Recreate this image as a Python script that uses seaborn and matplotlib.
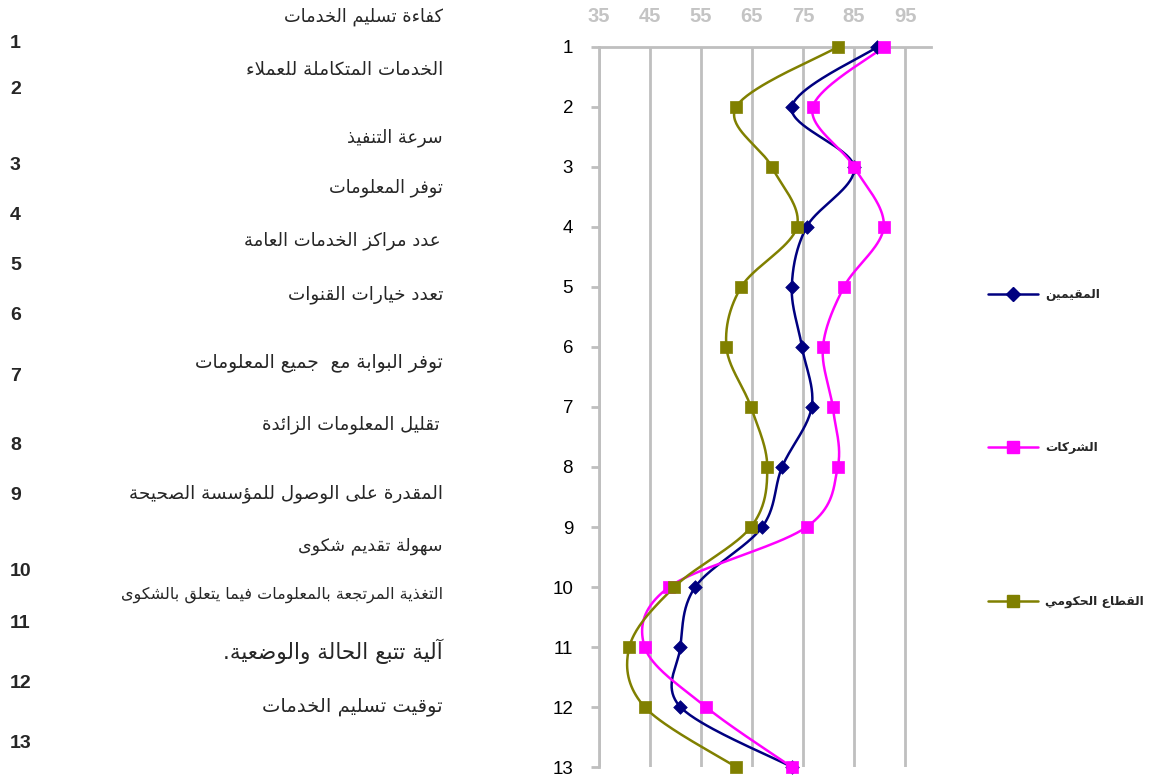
import numpy as np
import pandas as pd
import matplotlib
matplotlib.use("Agg")
import matplotlib.pyplot as plt
import seaborn as sns
from matplotlib.lines import Line2D

# ---------------- data ----------------
categories = list(range(1, 14))
residents = [89.5, 72.8, 85.0, 75.7, 72.8, 74.8, 76.7, 70.9, 67.0, 53.9, 51.0, 51.0, 72.8]
companies = [90.8, 76.9, 85.0, 90.8, 83.0, 78.9, 80.8, 81.8, 75.7, 48.8, 44.0, 56.0, 72.8]
government = [81.8, 61.9, 68.9, 73.8, 62.9, 60.0, 64.8, 68.0, 64.8, 49.8, 41.0, 44.0, 61.9]
series_names = ["المقيمين", "الشركات", "القطاع الحكومي"]
x_ticks = [35, 45, 55, 65, 75, 85, 95]
criteria = [
    "كفاءة تسليم الخدمات",
    "الخدمات المتكاملة للعملاء",
    "سرعة التنفيذ",
    "توفر المعلومات",
    "عدد مراكز الخدمات العامة",
    "تعدد خيارات القنوات",
    "توفر البوابة مع  جميع المعلومات",
    "تقليل المعلومات الزائدة",
    "المقدرة على الوصول للمؤسسة الصحيحة",
    "سهولة تقديم شكوى",
    "التغذية المرتجعة بالمعلومات فيما يتعلق بالشكوى",
    "آلية تتبع الحالة والوضعية.",
    "توقيت تسليم الخدمات",
]
row_numbers = [str(i) for i in range(1, 14)]

# ---------------- Arabic shaping (presentation forms + visual order) ----------------
DUAL = {0x0626: 0xFE89, 0x0628: 0xFE8F, 0x062A: 0xFE95, 0x062B: 0xFE99, 0x062C: 0xFE9D,
        0x062D: 0xFEA1, 0x062E: 0xFEA5, 0x0633: 0xFEB1, 0x0634: 0xFEB5, 0x0635: 0xFEB9,
        0x0636: 0xFEBD, 0x0637: 0xFEC1, 0x0638: 0xFEC5, 0x0639: 0xFEC9, 0x063A: 0xFECD,
        0x0641: 0xFED1, 0x0642: 0xFED5, 0x0643: 0xFED9, 0x0644: 0xFEDD, 0x0645: 0xFEE1,
        0x0646: 0xFEE5, 0x0647: 0xFEE9, 0x064A: 0xFEF1}
RIGHT = {0x0622: 0xFE81, 0x0623: 0xFE83, 0x0624: 0xFE85, 0x0625: 0xFE87, 0x0627: 0xFE8D,
         0x0629: 0xFE93, 0x062F: 0xFEA9, 0x0630: 0xFEAB, 0x0631: 0xFEAD, 0x0632: 0xFEAF,
         0x0648: 0xFEED, 0x0649: 0xFEEF}
NONJ = {0x0621: 0xFE80}
LAM_ALEF = {0x0622: 0xFEF5, 0x0623: 0xFEF7, 0x0625: 0xFEF9, 0x0627: 0xFEFB}


def shape(text):
    items = []
    i = 0
    while i < len(text):
        c = ord(text[i])
        if c == 0x0644 and i + 1 < len(text) and ord(text[i + 1]) in LAM_ALEF:
            items.append(("LA", ord(text[i + 1])))
            i += 2
            continue
        items.append(("C", c))
        i += 1

    def jtype(it):
        kind, c = it
        if kind == "LA":
            return "R"
        if c in DUAL:
            return "D"
        if c in RIGHT:
            return "R"
        if c in NONJ:
            return "U"
        return "N"

    out = []
    for j, it in enumerate(items):
        t = jtype(it)
        prev_t = jtype(items[j - 1]) if j > 0 else "N"
        next_t = jtype(items[j + 1]) if j + 1 < len(items) else "N"
        join_prev = t in ("D", "R") and prev_t == "D"
        join_next = t == "D" and next_t in ("D", "R")
        kind, c = it
        if kind == "LA":
            out.append(chr(LAM_ALEF[c] + (1 if join_prev else 0)))
        elif t == "D":
            off = 3 if (join_prev and join_next) else 1 if join_prev else 2 if join_next else 0
            out.append(chr(DUAL[c] + off))
        elif t == "R":
            out.append(chr(RIGHT[c] + (1 if join_prev else 0)))
        elif t == "U":
            out.append(chr(NONJ[c]))
        else:
            out.append(chr(c))
    return "".join(reversed(out))


def smooth(xv, yv, n=40):
    """Bezier smoothing through every point (Catmull-Rom control points)."""
    P = np.column_stack([xv, yv]).astype(float)
    segs = []
    for i in range(len(P) - 1):
        p0 = P[i - 1] if i > 0 else P[i]
        p1, p2 = P[i], P[i + 1]
        p3 = P[i + 2] if i + 2 < len(P) else P[i + 1]
        c1 = p1 + (p2 - p0) / 6
        c2 = p2 - (p3 - p1) / 6
        t = np.linspace(0, 1, n, endpoint=(i == len(P) - 2))[:, None]
        segs.append((1 - t) ** 3 * p1 + 3 * (1 - t) ** 2 * t * c1
                    + 3 * (1 - t) * t ** 2 * c2 + t ** 3 * p2)
    return np.vstack(segs)


# ---------------- figure ----------------
sns.set_style("white")
plt.rcParams["font.family"] = ["Liberation Sans", "DejaVu Sans"]

W, H = 1149, 780
fig = plt.figure(figsize=(W / 100, H / 100), dpi=100)
ax = fig.add_axes([598.7 / W, 1 - 767 / H, 332 / W, 720 / H])

colors = ["#000080", "#FF00FF", "#808000"]
markers = ["D", "s", "s"]
msizes = [48, 80, 80]
series = [residents, companies, government]

for vals, col, mk, ms in zip(series, colors, markers, msizes):
    curve = smooth(vals, categories)
    sns.lineplot(x=curve[:, 0], y=curve[:, 1], sort=False, estimator=None,
                 color=col, lw=1.8, ax=ax, zorder=3)
    sns.scatterplot(x=vals, y=categories, marker=mk, s=ms, color=col,
                    edgecolor=col, linewidth=0.5, ax=ax, zorder=4, clip_on=False)

ax.set_xlim(35, 100)
ax.set_ylim(13, 1)
ax.set_xticks(x_ticks)
ax.set_yticks(categories)
ax.set_yticklabels(row_numbers)
ax.xaxis.tick_top()
ax.tick_params(axis="x", length=0, pad=15, labelsize=14.5, labelcolor="#c4c4c4")
for lbl in ax.get_xticklabels():
    lbl.set_fontweight("bold")
ax.tick_params(axis="y", length=6, width=2, color="#bfbfbf", pad=12.5,
               labelsize=13.5, labelcolor="black", left=True)
ax.grid(axis="x", color="#bfbfbf", lw=2)
ax.grid(axis="y", visible=False)
for side in ["right", "bottom"]:
    ax.spines[side].set_visible(False)
for side in ["left", "top"]:
    ax.spines[side].set_color("#bfbfbf")
    ax.spines[side].set_linewidth(2)
ax.set_xlabel("")
ax.set_ylabel("")

# criteria descriptions on the left
label_y = [17, 70, 138, 188, 241, 295, 363, 425, 494, 546, 595, 651, 706]
label_x = [443, 443, 443, 443, 440, 443, 443, 440, 443, 443, 443, 443, 443]
label_fs = [12.8, 13.2, 12.8, 12.8, 13, 13.2, 13.4, 13, 13.2, 12.6, 11.5, 15.5, 14]
for txt, yy, xx, fs in zip(criteria, label_y, label_x, label_fs):
    fig.text(xx / W, 1 - yy / H, shape(txt), ha="right", va="center",
             fontsize=fs, family=["DejaVu Sans"])

number_y = [44, 89, 165, 215, 266, 316, 376, 446, 495, 572, 623, 683, 743]
for txt, yy in zip(row_numbers, number_y):
    fig.text(10 / W, 1 - yy / H, txt, ha="left", va="center",
             fontsize=14, fontweight="bold")

# legend
handles = [Line2D([], [], color=c, lw=1.8, marker=m, markersize=ms ** 0.5,
                  markeredgecolor=c) for c, m, ms in zip(colors, markers, msizes)]
fig.legend(handles, [shape(s) for s in series_names], loc="center left",
           bbox_to_anchor=(988 / W, 1 - 448 / H), frameon=False,
           labelspacing=11.5, handlelength=4.1, handletextpad=0.55,
           borderpad=0, borderaxespad=0,
           prop={"family": ["DejaVu Sans"], "weight": "bold", "size": 8.8})

fig.savefig("out.png", dpi=100)
